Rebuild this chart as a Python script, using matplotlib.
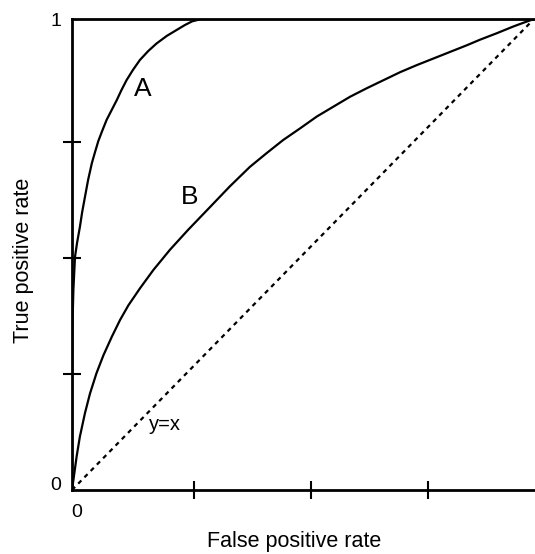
import matplotlib
matplotlib.use("Agg")
from matplotlib import pyplot as plt
from matplotlib.transforms import ScaledTranslation

plt.rcParams['font.family'] = ['Liberation Sans', 'DejaVu Sans']

# ROC curve A: a strong classifier, hugging the upper-left corner
fpr_a = [0.0, 0.0, 0.001, 0.003, 0.0065, 0.011, 0.017, 0.022, 0.028, 0.035,
         0.043, 0.050, 0.057, 0.066, 0.075, 0.086, 0.097, 0.107, 0.118,
         0.132, 0.147, 0.165, 0.183, 0.205, 0.227, 0.244, 0.260, 0.280, 1.0]
tpr_a = [0.0, 0.2, 0.35, 0.425, 0.495, 0.525, 0.558, 0.590, 0.622, 0.659,
         0.694, 0.718, 0.741, 0.764, 0.786, 0.807, 0.828, 0.849, 0.870,
         0.892, 0.913, 0.932, 0.948, 0.964, 0.977, 0.987, 0.995, 1.0, 1.0]

# ROC curve B: a weaker classifier
fpr_b = [0.0, 0.003, 0.010, 0.017, 0.028, 0.039, 0.053, 0.068, 0.086,
         0.104, 0.122, 0.147, 0.176, 0.212, 0.251, 0.299, 0.342,
         0.385, 0.421, 0.457, 0.494, 0.530, 0.566, 0.602, 0.638, 0.674,
         0.710, 0.746, 0.782, 0.818, 0.854, 0.883, 0.920, 0.955, 0.977, 1.0]
tpr_b = [0.0, 0.021, 0.071, 0.113, 0.163, 0.205, 0.248, 0.286, 0.325,
         0.361, 0.392, 0.428, 0.467, 0.510, 0.552, 0.601, 0.645,
         0.686, 0.715, 0.743, 0.768, 0.793, 0.814, 0.835, 0.853, 0.870,
         0.887, 0.902, 0.916, 0.930, 0.944, 0.956, 0.970, 0.984, 0.992, 1.0]

# chance line
chance = [0.0, 1.0]

x_marks = [0.264, 0.517, 0.77]
y_marks = [0.246, 0.493, 0.739]
end_ticks = [0.0, 1.0]
end_labels = ["0", "1"]

fig = plt.figure(figsize=(5.35, 5.54), dpi=100)
ax = fig.add_axes([72 / 535, 64 / 554, 462 / 535, 471 / 554])

line_kw = dict(color='black', lw=1.6, solid_capstyle='round',
               solid_joinstyle='round')
ax.plot(fpr_a, tpr_a, **line_kw)
ax.plot(fpr_b, tpr_b, **line_kw)
ax.plot(chance, chance, color='black', lw=1.6, linestyle=(0, (2, 2)))

ax.text(0.154, 0.851, "A", fontsize=19, ha='center', va='center')
ax.text(0.255, 0.622, "B", fontsize=19, ha='center', va='center')
ax.text(0.201, 0.140, "y=x", fontsize=14.5, ha='center', va='center')

ax.set_xlim(0, 1)
ax.set_ylim(0, 1)

for side in ('left', 'bottom', 'top'):
    ax.spines[side].set_linewidth(2.0)
ax.spines['right'].set_visible(False)

ax.set_xticks(end_ticks)
ax.set_xticklabels(end_labels)
ax.set_yticks(end_ticks)
ax.set_yticklabels(end_labels)
ax.tick_params(which='major', length=0, labelsize=14, pad=8)
ax.set_xticks(x_marks, minor=True)
ax.set_yticks(y_marks, minor=True)
ax.tick_params(which='minor', direction='inout', length=13, width=1.5)

# nudge the end labels a few pixels
for lab in ax.get_xticklabels():
    lab.set_transform(lab.get_transform()
                      + ScaledTranslation(5 / 100, -3 / 100, fig.dpi_scale_trans))
ylabs = ax.get_yticklabels()
ylabs[0].set_transform(ylabs[0].get_transform()
                       + ScaledTranslation(0, 6 / 100, fig.dpi_scale_trans))

ax.set_xlabel("False positive rate", fontsize=15.5, va='center')
ax.set_ylabel("True positive rate", fontsize=15.5, va='center')
ax.xaxis.set_label_coords((294 - 72) / 462, (490 - 541) / 471)
ax.yaxis.set_label_coords((24 - 72) / 462, (490 - 260) / 471)

fig.savefig("out.png", dpi=100)
